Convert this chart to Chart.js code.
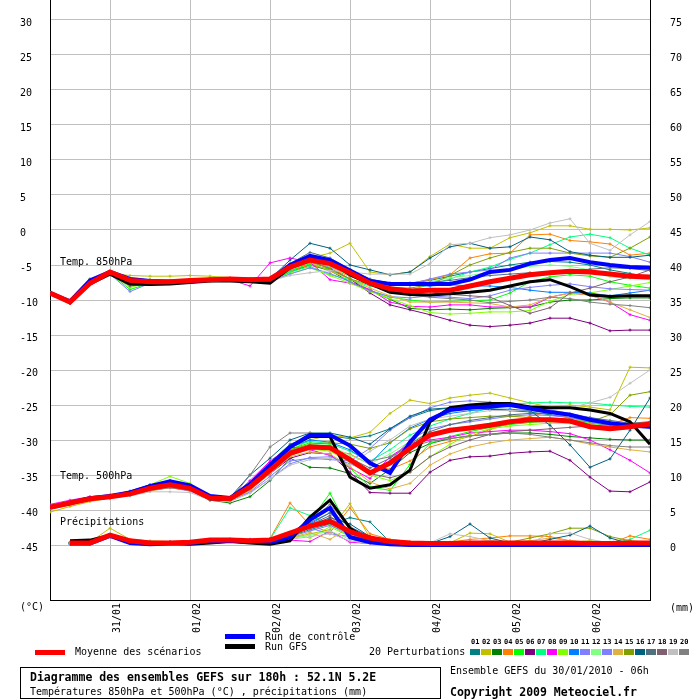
<!DOCTYPE html>
<html lang="fr">
<head>
<meta charset="utf-8">
<title>Diagramme des ensembles GEFS</title>
<script src="https://cdn.jsdelivr.net/npm/chart.js@4.4.1/dist/chart.umd.min.js"></script>
<style>
  html, body { margin: 0; padding: 0; background: #fff; }
  #wrap { position: relative; width: 700px; height: 700px; overflow: hidden;
          font-family: 'DejaVu Sans Mono', monospace; font-size: 10px; line-height: 10px; color: #000; }
  #chart { position: absolute; left: 0; top: 0; }
  .txt { position: absolute; white-space: nowrap; }
  .bold { font-weight: bold; font-size: 11.5px; line-height: 12px; }
  .bar { position: absolute; width: 30px; height: 5px; }
  #footer-box { position: absolute; left: 20px; top: 667px; width: 419px; height: 30px; border: 1px solid #000; }
  .num { position: absolute; top: 639px; font-size: 7px; line-height: 7px; font-weight: bold; }
  .swatch { position: absolute; top: 649px; width: 10px; height: 6px; }
</style>
</head>
<body>
<div id="wrap">
  <canvas id="chart" width="700" height="700"></canvas>
  <div class="txt" style="left:60px;top:257px">Temp. 850hPa</div>
  <div class="txt" style="left:60px;top:471px">Temp. 500hPa</div>
  <div class="txt" style="left:60px;top:517px">Précipitations</div>
  <div class="txt" style="left:20px;top:602px">(°C)</div>
  <div class="txt" style="left:670px;top:603px">(mm)</div>
  <div class="bar" style="left:225px;top:634px;background:#0000ff"></div>
  <div class="txt" style="left:265px;top:632px">Run de contrôle</div>
  <div class="bar" style="left:225px;top:644px;background:#000000"></div>
  <div class="txt" style="left:265px;top:642px">Run GFS</div>
  <div class="bar" style="left:35px;top:650px;background:#ff0000"></div>
  <div class="txt" style="left:75px;top:647px">Moyenne des scénarios</div>
  <div class="txt" style="left:369px;top:647px">20 Perturbations</div>
  <div id="members"></div>
  <div id="footer-box"></div>
  <div class="txt bold" style="left:30px;top:671px">Diagramme des ensembles GEFS sur 180h : 52.1N 5.2E</div>
  <div class="txt" style="left:30px;top:687px">Températures 850hPa et 500hPa (°C) , précipitations (mm)</div>
  <div class="txt" style="left:450px;top:666px">Ensemble GEFS du 30/01/2010 - 06h</div>
  <div class="txt bold" style="left:450px;top:686px">Copyright 2009 Meteociel.fr</div>
</div>

<script>
/* ---------- Axes ---------- */
// x = run step (6h each), 0 = 30/01 06h ... 30 = 06/02 18h
var DAY_TICKS = [3, 7, 11, 15, 19, 23, 27];
var DAY_LABELS = ['31/01', '01/02', '02/02', '03/02', '04/02', '05/02', '06/02'];
var TEMP_TICKS = [-45, -40, -35, -30, -25, -20, -15, -10, -5, 0, 5, 10, 15, 20, 25, 30];
var PRECIP_TICKS = [0, 5, 10, 15, 20, 25, 30, 35, 40, 45, 50, 55, 60, 65, 70, 75];

var MEMBER_COLORS = [
  '#008080', '#c0c000', '#008000', '#ff8000', '#00ff00',
  '#800080', '#00ff80', '#ff00ff', '#80ff00', '#0080ff',
  '#8080ff', '#80ff80', '#8080ff', '#e0b040', '#80a000',
  '#006080', '#507080', '#806070', '#c0c0c0', '#808080'
];

/* ---------- Temp. 850hPa (°C) ---------- */
var T850_MEAN = [-9.0,-10.3,-7.6,-6.0,-7.2,-7.4,-7.4,-7.2,-7.1,-7.0,-7.1,-7.0,-5.3,-4.3,-4.8,-6.1,-7.6,-8.4,-8.7,-8.6,-8.6,-8.0,-7.4,-6.9,-6.4,-6.1,-5.9,-6.0,-6.3,-6.6,-6.7];
var T850_CTRL = [-9.0,-10.2,-7.2,-6.0,-7.0,-7.3,-7.4,-7.3,-7.1,-7.0,-7.1,-7.1,-5.0,-3.7,-4.3,-5.8,-7.3,-7.7,-7.7,-7.7,-7.7,-7.1,-6.0,-5.7,-4.8,-4.3,-4.0,-4.6,-5.0,-5.3,-5.4];
var T850_GFS  = [-9.0,-10.4,-7.7,-6.3,-7.7,-7.8,-7.7,-7.5,-7.3,-7.3,-7.4,-7.6,-5.4,-4.0,-4.5,-6.4,-7.7,-8.9,-9.2,-9.3,-9.1,-8.9,-8.6,-8.0,-7.4,-7.1,-8.1,-9.3,-9.5,-9.4,-9.4];
var T850_PERT = [
  [-8.9,-10.2,-7.0,-6.2,-7.0,-7.1,-7.3,-7.2,-7.0,-7.0,-7.1,-7.1,-5.2,-4.2,-4.9,-6.2,-7.1,-7.6,-7.6,-7.2,-6.6,-6.0,-5.5,-5.0,-4.6,-4.5,-4.6,-5.0,-5.7,-6.2,-6.7],
  [-9.0,-10.0,-7.0,-6.2,-6.5,-6.6,-6.6,-6.5,-6.6,-6.8,-6.9,-6.9,-5.0,-4.0,-3.3,-1.9,-6.0,-6.4,-6.0,-3.8,-2.0,-2.6,-2.6,-1.1,-0.4,0.6,0.6,0.1,0.1,0.0,0.3],
  [-9.1,-10.5,-7.5,-6.2,-7.3,-7.5,-7.3,-7.3,-7.2,-7.2,-7.3,-7.3,-6.0,-5.0,-5.8,-7.4,-8.6,-9.9,-11.2,-11.4,-11.3,-11.4,-11.2,-11.1,-11.0,-10.3,-10.0,-10.0,-9.8,-9.7,-9.7],
  [-9.0,-10.1,-7.3,-6.2,-7.0,-7.2,-7.2,-7.1,-7.0,-7.0,-7.1,-7.1,-5.8,-5.0,-5.6,-6.6,-7.5,-7.8,-7.6,-7.1,-6.4,-4.0,-3.4,-3.3,-0.7,-0.6,-1.5,-1.7,-2.0,-3.6,-3.3],
  [-9.0,-10.4,-7.3,-6.2,-8.5,-7.6,-7.4,-7.3,-7.2,-7.1,-7.3,-7.3,-5.8,-4.8,-5.7,-7.0,-8.6,-9.6,-10.0,-10.3,-10.2,-10.1,-10.0,-9.0,-7.4,-6.7,-6.4,-6.6,-7.4,-7.9,-8.3],
  [-9.0,-10.3,-7.4,-6.1,-7.3,-7.4,-7.4,-7.3,-7.2,-7.1,-7.2,-7.2,-5.5,-4.5,-5.5,-7.0,-9.0,-10.7,-11.4,-12.1,-12.9,-13.6,-13.8,-13.6,-13.3,-12.6,-12.6,-13.3,-14.4,-14.3,-14.3],
  [-9.0,-10.2,-7.4,-6.0,-7.2,-7.3,-7.3,-7.2,-7.1,-7.1,-7.2,-7.2,-6.0,-5.2,-6.4,-7.1,-8.0,-8.6,-8.6,-7.8,-7.0,-6.0,-5.3,-4.2,-3.3,-2.1,-1.0,-0.6,-1.1,-2.6,-3.6],
  [-9.0,-10.3,-7.5,-6.1,-7.3,-7.4,-7.3,-7.2,-7.0,-7.1,-8.0,-4.7,-4.0,-4.6,-7.1,-7.6,-8.5,-10.3,-10.9,-11.0,-10.7,-10.7,-11.0,-11.0,-11.0,-9.6,-9.0,-9.3,-10.3,-12.1,-12.9],
  [-9.1,-10.5,-7.6,-6.2,-8.2,-7.5,-7.4,-7.3,-7.2,-7.2,-7.3,-7.4,-6.2,-5.4,-6.5,-7.6,-8.8,-9.8,-10.8,-11.8,-12.0,-11.9,-11.7,-11.7,-11.5,-10.2,-9.2,-9.0,-8.5,-8.0,-7.5],
  [-9.0,-10.3,-7.3,-6.0,-7.2,-7.3,-7.3,-7.2,-7.1,-7.0,-7.1,-7.1,-5.0,-3.8,-4.6,-6.3,-7.4,-7.8,-7.9,-8.0,-7.8,-8.0,-8.0,-8.2,-8.6,-8.9,-8.9,-9.0,-9.4,-9.0,-8.6],
  [-9.0,-10.2,-7.2,-6.3,-8.8,-7.6,-7.5,-7.3,-7.2,-7.1,-7.2,-7.1,-5.6,-4.6,-5.3,-6.5,-7.4,-7.8,-7.7,-7.0,-6.3,-6.0,-5.7,-4.0,-3.3,-3.3,-3.3,-3.3,-3.3,-3.8,-4.6],
  [-9.0,-10.3,-7.4,-6.1,-7.4,-7.4,-7.4,-7.3,-7.1,-7.1,-7.2,-7.2,-5.5,-4.4,-5.2,-6.6,-7.6,-8.0,-7.8,-7.4,-6.8,-6.5,-6.0,-5.6,-5.2,-5.0,-5.2,-5.7,-6.7,-6.9,-7.1],
  [-9.1,-10.4,-7.6,-6.4,-7.5,-7.5,-7.4,-7.3,-7.2,-7.2,-7.3,-7.3,-6.3,-5.4,-6.2,-7.4,-8.7,-9.5,-9.7,-9.4,-9.6,-9.8,-9.4,-8.6,-8.2,-7.9,-7.7,-8.1,-8.4,-8.5,-8.6],
  [-9.0,-10.2,-7.3,-6.2,-7.0,-7.1,-7.2,-7.2,-7.1,-7.1,-7.1,-7.2,-5.4,-4.6,-5.9,-7.0,-8.3,-9.4,-10.3,-10.3,-10.3,-10.4,-10.5,-11.0,-10.7,-9.6,-9.0,-9.3,-10.3,-11.4,-12.5],
  [-9.0,-10.4,-7.6,-6.3,-7.2,-7.3,-7.4,-7.3,-7.2,-7.2,-7.2,-7.2,-5.5,-4.5,-5.5,-7.0,-7.8,-8.2,-8.3,-7.8,-6.5,-5.0,-4.0,-3.2,-2.6,-2.6,-3.3,-3.7,-3.9,-2.6,-1.0],
  [-9.0,-10.2,-7.3,-6.1,-7.1,-7.2,-7.4,-7.3,-7.0,-7.1,-7.1,-7.0,-4.3,-1.9,-2.6,-5.0,-5.7,-6.4,-6.0,-4.0,-2.4,-1.9,-2.6,-2.4,-1.0,-1.4,-3.1,-3.6,-3.9,-3.9,-3.6],
  [-9.0,-10.3,-7.2,-6.2,-7.4,-7.3,-7.3,-7.2,-7.1,-7.1,-7.2,-7.2,-4.8,-3.2,-4.0,-5.6,-7.0,-7.6,-7.7,-7.5,-7.2,-6.8,-6.5,-6.3,-6.1,-6.0,-5.8,-5.6,-5.4,-5.5,-5.8],
  [-9.1,-10.4,-7.6,-6.4,-8.0,-7.6,-7.5,-7.4,-7.3,-7.2,-7.3,-7.3,-5.2,-3.6,-4.4,-6.4,-7.6,-8.3,-8.6,-8.8,-9.2,-9.4,-9.6,-10.8,-11.9,-11.1,-9.0,-8.3,-7.4,-6.7,-5.7],
  [-9.0,-10.1,-7.5,-6.3,-7.2,-7.3,-7.2,-7.2,-7.0,-7.1,-7.2,-7.3,-6.5,-6.1,-5.8,-6.0,-6.3,-6.3,-6.3,-4.8,-2.1,-1.9,-1.1,-0.7,0.0,1.0,1.6,-1.9,-2.9,-0.7,1.2],
  [-9.0,-10.3,-7.4,-6.3,-7.5,-7.4,-7.4,-7.3,-7.1,-7.1,-7.2,-7.1,-5.0,-4.0,-4.8,-6.6,-7.8,-8.6,-9.3,-9.6,-9.8,-10.0,-10.4,-10.2,-10.0,-9.6,-9.8,-10.3,-10.6,-10.8,-11.1]
];

/* ---------- Temp. 500hPa (°C) ---------- */
var T500_MEAN = [-39.6,-39.0,-38.4,-38.1,-37.7,-36.9,-36.4,-36.9,-38.3,-38.4,-36.7,-34.3,-31.9,-31.0,-31.1,-32.8,-34.7,-33.3,-31.2,-29.3,-28.6,-28.3,-27.9,-27.4,-27.1,-27.1,-27.3,-28.1,-28.4,-28.1,-27.7];
var T500_CTRL = [-39.6,-39.0,-38.3,-38.0,-37.5,-36.6,-35.9,-36.5,-38.0,-38.3,-36.3,-33.6,-31.0,-29.3,-29.3,-30.8,-33.3,-34.7,-30.3,-27.1,-25.7,-25.4,-25.2,-25.0,-25.5,-26.0,-26.4,-27.1,-27.6,-27.9,-28.1];
var T500_GFS  = [-39.6,-39.0,-38.4,-38.0,-37.6,-36.8,-36.3,-36.8,-38.4,-38.5,-36.5,-33.5,-31.0,-29.5,-29.5,-35.3,-36.9,-36.4,-34.3,-27.4,-25.4,-25.0,-24.8,-24.8,-25.3,-25.4,-25.4,-25.7,-26.2,-27.4,-30.6];
var T500_PERT = [
  [-39.4,-38.9,-38.2,-38.0,-37.4,-36.5,-35.8,-36.4,-38.0,-38.3,-36.0,-33.2,-30.6,-29.6,-29.4,-29.8,-29.4,-28.4,-26.8,-25.8,-25.4,-25.3,-25.5,-25.8,-26.0,-26.4,-26.8,-27.3,-27.8,-27.9,-28.0],
  [-40.3,-39.5,-38.8,-38.3,-37.9,-37.0,-36.6,-37.0,-38.4,-38.6,-36.9,-34.2,-31.5,-30.0,-29.3,-29.7,-28.9,-26.2,-24.3,-24.8,-24.0,-23.6,-23.3,-24.0,-24.7,-25.3,-25.0,-25.3,-25.7,-19.6,-19.7],
  [-39.7,-39.1,-38.5,-38.2,-37.8,-37.0,-36.5,-37.1,-38.6,-39.0,-38.1,-35.8,-32.6,-33.9,-34.0,-34.8,-36.2,-34.2,-31.8,-30.5,-29.8,-29.4,-29.2,-29.0,-29.0,-29.2,-29.5,-29.7,-29.9,-30.0,-30.0],
  [-39.8,-39.2,-38.6,-38.2,-37.9,-37.2,-36.8,-37.2,-38.5,-38.6,-37.0,-34.8,-32.2,-31.2,-31.4,-32.0,-33.5,-34.2,-33.0,-31.0,-30.2,-29.5,-28.5,-27.6,-26.6,-26.0,-26.9,-27.4,-27.8,-26.8,-26.9],
  [-39.5,-38.9,-38.3,-38.0,-37.5,-36.7,-36.0,-36.7,-38.2,-38.4,-36.5,-33.8,-31.3,-30.4,-30.6,-34.0,-36.7,-37.2,-33.5,-30.5,-29.5,-28.8,-28.2,-27.8,-27.5,-27.3,-27.3,-27.6,-27.9,-28.0,-28.1],
  [-39.6,-39.0,-38.4,-38.1,-37.8,-37.0,-36.6,-37.0,-38.4,-38.6,-37.0,-34.8,-32.6,-31.8,-32.0,-34.6,-37.5,-37.6,-37.6,-34.6,-32.9,-32.4,-32.3,-31.9,-31.7,-31.6,-32.9,-35.3,-37.3,-37.4,-36.0],
  [-39.4,-38.8,-38.2,-37.9,-37.4,-36.4,-35.8,-36.4,-38.0,-38.2,-36.2,-33.6,-31.0,-30.2,-30.5,-31.6,-33.0,-31.4,-29.3,-28.0,-27.0,-26.2,-25.4,-24.9,-24.7,-24.6,-24.7,-24.7,-25.0,-25.2,-25.3],
  [-39.2,-38.6,-38.1,-37.9,-37.6,-37.0,-36.8,-37.2,-38.2,-38.4,-35.8,-33.0,-31.0,-31.4,-32.2,-34.0,-35.5,-32.4,-30.5,-30.0,-29.6,-29.0,-28.8,-28.6,-28.6,-28.8,-29.1,-30.0,-31.4,-32.9,-34.7],
  [-39.8,-39.2,-38.5,-38.1,-37.6,-36.4,-35.2,-36.2,-38.0,-38.3,-36.9,-34.6,-32.2,-31.3,-31.6,-33.2,-35.0,-35.8,-34.6,-32.4,-30.6,-29.2,-28.4,-28.0,-27.8,-27.6,-27.6,-27.8,-28.0,-27.8,-27.6],
  [-39.5,-38.9,-38.3,-38.0,-37.5,-36.6,-36.0,-36.6,-38.1,-38.3,-36.3,-33.8,-31.0,-30.0,-30.3,-31.4,-33.4,-30.4,-28.3,-27.0,-26.2,-25.8,-25.6,-25.6,-25.8,-26.1,-26.5,-27.2,-27.8,-27.9,-27.8],
  [-39.7,-39.2,-38.6,-38.3,-37.9,-37.2,-36.8,-37.3,-38.5,-38.6,-37.4,-35.2,-33.0,-32.6,-32.8,-33.0,-31.2,-28.6,-26.8,-25.4,-24.6,-24.4,-24.6,-25.0,-25.4,-25.7,-26.2,-26.8,-27.4,-27.8,-28.0],
  [-39.6,-39.0,-38.4,-38.1,-37.7,-36.8,-36.2,-36.8,-38.3,-38.5,-36.6,-34.0,-31.5,-30.6,-30.8,-32.2,-33.4,-32.0,-30.2,-29.0,-28.4,-28.0,-27.6,-27.2,-27.0,-26.9,-27.0,-27.4,-27.8,-27.6,-27.4],
  [-39.8,-39.2,-38.6,-38.2,-37.9,-37.1,-36.7,-37.1,-38.4,-38.6,-37.5,-35.6,-33.4,-32.5,-32.4,-33.4,-34.6,-33.0,-30.0,-28.4,-27.8,-27.4,-27.0,-26.6,-26.4,-26.5,-26.8,-27.4,-28.0,-28.2,-28.3],
  [-39.9,-39.3,-38.6,-38.3,-37.9,-37.3,-36.8,-37.2,-38.5,-38.7,-37.2,-34.8,-32.4,-31.7,-32.0,-33.8,-36.0,-37.0,-36.2,-33.6,-32.0,-31.0,-30.4,-30.0,-29.8,-29.6,-30.0,-30.6,-31.0,-31.4,-31.7],
  [-39.5,-38.9,-38.3,-38.0,-37.5,-36.7,-36.2,-36.7,-38.2,-38.4,-36.6,-33.8,-31.4,-30.6,-30.4,-30.6,-31.2,-30.4,-28.4,-27.4,-27.0,-26.8,-26.6,-26.6,-26.8,-27.0,-27.2,-27.4,-26.4,-23.6,-23.1],
  [-39.4,-38.8,-38.2,-37.9,-37.3,-36.4,-35.9,-36.5,-38.0,-38.2,-35.0,-32.6,-30.0,-29.0,-29.0,-29.6,-30.6,-28.4,-26.6,-25.6,-25.4,-25.4,-25.6,-25.8,-25.8,-27.9,-30.7,-33.9,-32.7,-28.6,-24.0],
  [-39.6,-39.0,-38.4,-38.1,-37.6,-36.8,-36.3,-36.8,-38.3,-38.4,-36.8,-34.2,-31.6,-30.8,-31.0,-32.6,-34.0,-32.6,-30.6,-28.8,-27.8,-27.2,-26.8,-26.4,-26.2,-26.2,-26.4,-26.8,-27.2,-27.6,-27.8],
  [-39.6,-39.1,-38.5,-38.1,-37.7,-37.0,-36.6,-37.0,-38.3,-38.5,-36.8,-34.4,-32.0,-31.2,-31.2,-33.0,-34.8,-35.4,-34.6,-32.4,-31.0,-30.0,-29.2,-28.8,-28.6,-28.4,-28.2,-28.0,-27.8,-27.6,-27.4],
  [-39.5,-39.0,-38.5,-38.2,-38.0,-37.4,-37.4,-37.5,-38.6,-38.8,-37.6,-35.6,-33.6,-32.8,-32.6,-33.6,-31.6,-30.0,-28.0,-27.0,-26.6,-26.2,-25.8,-25.8,-25.7,-25.6,-25.4,-24.7,-23.9,-21.9,-20.0],
  [-39.7,-39.2,-38.6,-38.3,-37.9,-37.2,-36.8,-37.2,-38.6,-38.6,-35.0,-31.0,-29.0,-29.0,-29.4,-31.0,-33.0,-32.4,-31.0,-30.2,-29.8,-29.4,-29.2,-29.0,-29.2,-29.6,-30.0,-30.4,-30.8,-31.0,-31.0]
];

/* ---------- Précipitations (mm / 6h), no value at the first step ---------- */
var PRECIP_MEAN = [null,0.3,0.3,1.4,0.6,0.3,0.3,0.4,0.7,0.7,0.6,0.7,1.7,2.7,3.4,1.9,1.0,0.5,0.3,0.2,0.2,0.3,0.3,0.3,0.3,0.3,0.3,0.2,0.2,0.3,0.3];
var PRECIP_CTRL = [null,0.2,0.2,1.3,0.3,0.1,0.2,0.3,0.5,0.6,0.5,0.4,1.1,3.6,5.3,1.1,0.4,0.1,0,0,0,0,0,0,0,0,0,0,0,0,0];
var PRECIP_GFS  = [null,0.6,0.7,1.4,0.4,0.3,0.2,0.1,0.3,0.5,0.3,0.1,0.6,4.0,6.4,2.4,0.7,0.3,0.1,0,0,0,0,0,0,0,0,0,0,0,0];
var PRECIP_PERT = [
  [null,0.3,0.3,1.5,0.5,0.3,0.4,0.5,0.6,0.7,0.8,0.6,1.2,2.2,3.0,3.9,3.3,0.4,0.2,0.1,0,0,0.1,0,0,0,0,0,0,0,0],
  [null,0.3,0.4,2.4,0.8,0.6,0.5,0.6,0.8,0.9,0.6,0.7,0.9,1.6,2.2,5.9,1.0,0.5,0.3,0.2,0.3,1.7,1.6,0.4,0.2,0.2,0.4,0.6,0.4,0.2,0.3],
  [null,0.2,0.2,1.2,0.4,0.2,0.3,0.4,0.6,0.6,0.5,0.4,1.0,2.6,3.6,2.2,0.6,0.2,0,0,0,0,0,0,0,0,0,0,0,0,0],
  [null,0.3,0.3,1.4,0.5,0.4,0.4,0.4,0.7,0.8,0.7,0.9,6.0,2.8,1.8,5.3,1.6,0.8,0.5,0.3,0.4,0.8,1.0,1.3,1.3,1.2,0.6,0.4,0.2,1.3,0.8],
  [null,0.2,0.2,1.3,0.5,0.3,0.3,0.4,0.5,0.6,0.6,0.5,1.5,3.5,7.4,2.0,0.7,0.2,0,0,0,0,0,0,0,0,0,0,0,0,0],
  [null,0.3,0.3,1.4,0.6,0.4,0.4,0.5,0.7,0.7,0.6,0.6,1.4,2.5,3.1,2.0,0.9,0.4,0.2,0.1,0,0,0,0,0,0,0,0,0,0,0],
  [null,0.3,0.3,1.3,0.6,0.4,0.4,0.5,0.6,0.7,0.6,0.8,5.3,4.2,2.9,1.2,0.6,0.3,0.2,0.1,0,0,0,0,0,0,0,0,0.2,0.8,2.1],
  [null,0.4,0.4,1.3,0.5,0.4,0.4,0.5,0.6,0.7,0.8,0.9,0.7,0.5,2.0,0.4,0.2,0.1,0,0,0,0,0,0,0,0,0,0,0,0,0],
  [null,0.2,0.3,1.4,0.5,0.3,0.3,0.4,0.6,0.6,0.5,0.5,1.6,1.0,2.6,1.2,0.4,0.1,0,0,0,0,0,0,0,0,0,0,0,0,0],
  [null,0.1,0.2,1.2,0.3,0.2,0.3,0.4,0.5,0.6,0.5,0.5,1.3,3.0,4.6,2.6,1.2,0.3,0.1,0,0,0,0,0,0,0,0,0,0,0,0],
  [null,0.3,0.3,1.4,0.5,0.3,0.4,0.5,0.6,0.7,0.6,0.6,1.8,2.4,1.6,1.2,0.8,0.3,0.1,0,0,0,0,0,0,0,0,0,0,0,0],
  [null,0.3,0.3,1.3,0.6,0.4,0.4,0.5,0.7,0.7,0.6,0.6,0.9,1.4,2.0,0.8,0.3,0.1,0,0,0,0,0,0,0,0,0,0,0,0,0],
  [null,0.2,0.3,1.4,0.4,0.3,0.3,0.4,0.6,0.6,0.5,0.5,1.2,2.0,2.8,1.6,0.5,0.2,0,0,0,0,0,0,0,0,0,0,0,0,0],
  [null,0.3,0.3,1.4,0.6,0.4,0.4,0.5,0.7,0.7,0.6,0.6,1.0,1.8,0.8,2.6,0.8,0.3,0.2,0.1,0.1,0.2,0.3,0.4,0.6,1.0,0.6,0.3,0.2,0.1,0],
  [null,0.3,0.3,1.4,0.5,0.4,0.4,0.5,0.7,0.7,0.6,0.6,1.4,2.4,3.2,1.8,0.6,0.3,0.1,0.1,0.2,0.4,0.6,0.4,1.0,1.6,2.4,2.4,1.2,0.6,0.4],
  [null,0.3,0.3,1.4,0.6,0.4,0.4,0.5,0.6,0.7,0.6,0.7,1.6,2.8,3.9,3.0,1.2,0.4,0.2,0.2,1.2,3.0,1.0,0.3,0.2,0.8,1.4,2.7,1.0,0.2,0],
  [null,0.3,0.3,1.4,0.5,0.3,0.3,0.4,0.6,0.7,0.6,0.6,1.7,3.2,4.6,1.8,0.7,0.2,0.1,0,0,0,0,0,0,0,0,0,0,0,0],
  [null,0.3,0.3,1.4,0.5,0.4,0.4,0.5,0.7,0.7,0.6,0.7,1.5,2.9,4.2,1.4,0.6,0.3,0.1,0,0,0,0,0,0,0,0,0,0,0,0],
  [null,0.3,0.3,1.4,0.6,0.4,0.5,0.5,0.7,0.8,0.7,0.7,0.8,1.2,1.6,0.6,0.2,0.1,0.1,0.3,1.6,1.2,0.6,0.3,0.3,1.6,1.7,0.8,0.3,0.1,0],
  [null,0.3,0.3,1.4,0.6,0.4,0.4,0.5,0.7,0.7,0.6,0.7,1.8,3.4,5.8,2.4,0.9,0.4,0.2,0.1,0,0,0,0,0,0,0,0,0,0,0]
];

(function () {
  'use strict';

  var FONT = { family: "'DejaVu Sans Mono', monospace", size: 10 };

  /* ---------- Dataset helpers ---------- */
  function toPoints(values) {
    return values.map(function (v, i) { return { x: i, y: v }; });
  }

  function memberSet(values, color, axis, k) {
    return {
      data: toPoints(values),
      yAxisID: axis,
      borderColor: color,
      backgroundColor: color,
      borderWidth: 1,
      pointStyle: 'cross',
      pointRadius: 1.5,
      pointBorderWidth: 1,
      pointBorderColor: color,
      tension: 0,
      fill: false,
      order: 100 - k
    };
  }

  function runSet(values, color, width, axis, order) {
    return {
      data: toPoints(values),
      yAxisID: axis,
      borderColor: color,
      backgroundColor: color,
      borderWidth: width,
      pointRadius: 0,
      tension: 0,
      fill: false,
      order: order
    };
  }

  function buildDatasets() {
    var sets = [];
    var groups = [
      { pert: T850_PERT, mean: T850_MEAN, ctrl: T850_CTRL, gfs: T850_GFS, axis: 'y' },
      { pert: T500_PERT, mean: T500_MEAN, ctrl: T500_CTRL, gfs: T500_GFS, axis: 'y' },
      { pert: PRECIP_PERT, mean: PRECIP_MEAN, ctrl: PRECIP_CTRL, gfs: PRECIP_GFS, axis: 'yP' }
    ];
    groups.forEach(function (g) {
      g.pert.forEach(function (row, k) {
        sets.push(memberSet(row, MEMBER_COLORS[k], g.axis, k));
      });
      sets.push(runSet(g.gfs, '#000000', 3, g.axis, 2));
      sets.push(runSet(g.ctrl, '#0000ff', 4, g.axis, 1));
      sets.push(runSet(g.mean, '#ff0000', 5, g.axis, 0));
    });
    return sets;
  }

  function fixedTicks(list) {
    return function (scale) {
      scale.ticks = list.map(function (v) { return { value: v }; });
    };
  }

  // vertical axes: no extra room above/below the plot for tick labels
  function fitVertical(width) {
    return function (s) {
      s.width = width;
      s.paddingTop = 0;
      s.paddingBottom = 0;
    };
  }

  /* ---------- Member legend (01..20 swatches) ---------- */
  function renderMembers() {
    var box = document.getElementById('members');
    var html = '';
    MEMBER_COLORS.forEach(function (c, k) {
      var left = 470 + k * 11;
      var n = (k + 1 < 10 ? '0' : '') + (k + 1);
      html += '<div class="num" style="left:' + (left + 1) + 'px">' + n + '</div>';
      html += '<div class="swatch" style="left:' + left + 'px;background:' + c + '"></div>';
    });
    box.innerHTML = html;
  }

  /* ---------- Chart ---------- */
  function renderChart() {
    var ctx = document.getElementById('chart').getContext('2d');
    new Chart(ctx, {
      type: 'line',
      data: { datasets: buildDatasets() },
      options: {
        responsive: false,
        animation: false,
        devicePixelRatio: 1,
        layout: { autoPadding: false, padding: { left: 20, right: 0, top: 0, bottom: 0 } },
        plugins: { legend: { display: false }, tooltip: { enabled: false } },
        scales: {
          x: {
            type: 'linear',
            min: 0,
            max: 30,
            afterBuildTicks: fixedTicks(DAY_TICKS),
            afterFit: function (s) { s.height = 100; s.paddingLeft = 0; s.paddingRight = 0; },
            ticks: {
              autoSkip: false,
              minRotation: 90,
              maxRotation: 90,
              padding: 3,
              labelOffset: 7,
              color: '#000',
              font: FONT,
              callback: function (v) { return DAY_LABELS[DAY_TICKS.indexOf(v)]; }
            },
            grid: { color: '#c0c0c0', drawTicks: false },
            border: { color: '#000' }
          },
          y: {
            position: 'left',
            min: -45 - 55 / 7,
            max: 30 + 20 / 7,
            afterBuildTicks: fixedTicks(TEMP_TICKS),
            afterFit: fitVertical(30),
            ticks: { crossAlign: 'far', labelOffset: 3, color: '#000', font: FONT },
            grid: { color: '#c0c0c0', drawTicks: false },
            border: { color: '#000' }
          },
          yP: {
            position: 'right',
            min: -55 / 7,
            max: 75 + 20 / 7,
            afterBuildTicks: fixedTicks(PRECIP_TICKS),
            afterFit: fitVertical(50),
            ticks: { padding: 20, labelOffset: 3, color: '#000', font: FONT },
            grid: { display: false, drawTicks: false },
            border: { color: '#000' }
          }
        }
      }
    });
  }

  renderMembers();
  renderChart();
})();
</script>
</body>
</html>
